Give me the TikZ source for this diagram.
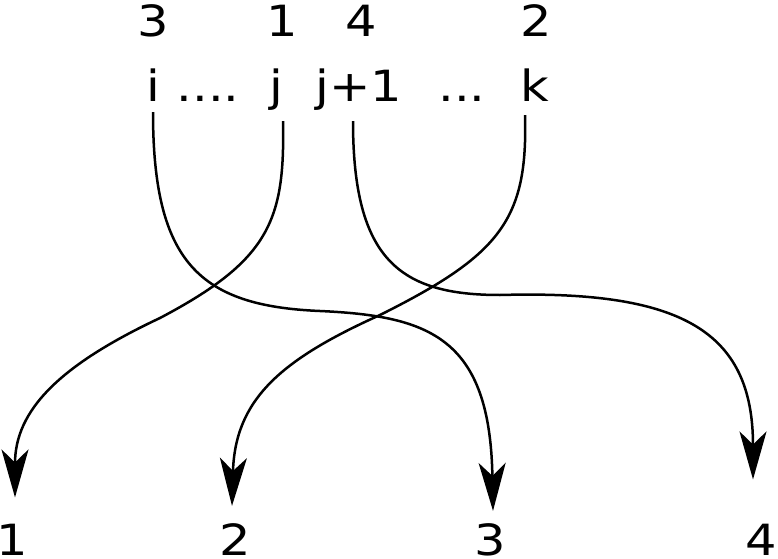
\documentclass[tikz,border=0pt]{standalone}
\usepackage{fontspec}
\setmainfont{DejaVu Sans}[FakeStretch=1.15]
\usetikzlibrary{arrows.meta}

\begin{document}
\begin{tikzpicture}[x=1pt, y=1pt,
        lbl/.style={anchor=base, inner sep=0pt, font=\fontsize{43}{50}\selectfont},
        perm/.style={line width=2.5pt, -{Stealth[length=48pt, width=27pt, inset=13pt]}}]
        \useasboundingbox (0,0) rectangle (778,558);

        % horní pořadí
        \node[lbl] (p3) at (153,521) {3};
        \node[lbl] (p1) at (282,521) {1};
        \node[lbl] (p4) at (361,521) {4};
        \node[lbl] (p2) at (536,521) {2};

        % indexy
        \node[lbl] (i) at (153,456) {i};
        \node[lbl] (d4) at (208,456) {....};
        \node[lbl] (j) at (276,456) {j};
        \node[lbl] (j1) at (359,456) {j+1};
        \node[lbl] (d3) at (462,456) {...};
        \node[lbl] (k) at (535,456) {k};

        % dolní pozice
        \node[lbl] (b1) at (12,3) {1};
        \node[lbl] (b2) at (235,3) {2};
        \node[lbl] (b3) at (490,3) {3};
        \node[lbl] (b4) at (761,3) {4};

        % přesuny
        \draw[perm] ([yshift=-10pt]i.south)
        .. controls (153,295) and (200,252) .. (320,247)
        .. controls (430,242) and (490,220) .. ([xshift=3pt, yshift=12pt]b3.north);

        \draw[perm] ([xshift=7pt, yshift=-10pt]j.south)
        .. controls (285,338) and (270,298) .. (160,240)
        .. controls (60,193) and (15,148) .. ([xshift=3pt, yshift=26pt]b1.north);

        \draw[perm] ([xshift=-6pt, yshift=-10pt]j1.south)
        .. controls (353,298) and (400,263) .. (500,263)
        .. controls (680,268) and (753,228) .. ([xshift=-8pt, yshift=44pt]b4.north);

        \draw[perm] ([xshift=-10pt, yshift=-13pt]k.south)
        .. controls (528,338) and (500,303) .. (380,243)
        .. controls (280,198) and (235,158) .. ([xshift=-3pt, yshift=17pt]b2.north);
\end{tikzpicture}
\end{document}
